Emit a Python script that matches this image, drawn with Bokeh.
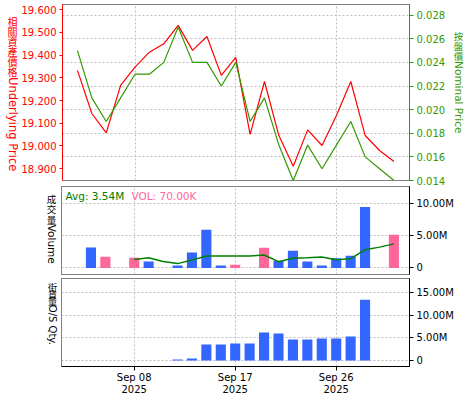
import math
import numpy as np
from bokeh.plotting import figure
from bokeh.models import (Range1d, LinearAxis, FixedTicker, Label, Grid,
                          ColumnDataSource, NumeralTickFormatter)
from bokeh.core.properties import value
from bokeh.layouts import column, row
from bokeh.embed import file_html
from bokeh.resources import INLINE

# ---------------- data ----------------
dates = ["2025-09-02", "2025-09-03", "2025-09-04", "2025-09-05", "2025-09-08",
         "2025-09-09", "2025-09-10", "2025-09-11", "2025-09-12", "2025-09-15",
         "2025-09-16", "2025-09-17", "2025-09-18", "2025-09-19", "2025-09-22",
         "2025-09-23", "2025-09-24", "2025-09-25", "2025-09-26", "2025-09-29",
         "2025-09-30", "2025-10-01", "2025-10-02"]
underlying = [19.333, 19.143, 19.058, 19.267, 19.347, 19.413, 19.450, 19.531,
              19.421, 19.482, 19.311, 19.390, 19.051, 19.284, 19.046, 18.911,
              19.071, 19.002, 19.134, 19.284, 19.046, 18.980, 18.932]
nominal = [0.025, 0.021, 0.019, 0.021, 0.023, 0.023, 0.024, 0.027, 0.024,
           0.024, 0.022, 0.024, 0.019, 0.021, 0.017, 0.014, 0.017, 0.015,
           0.017, 0.019, 0.016, 0.015, 0.014]
volume_m = [None, 3.14, 1.72, None, 1.57, 1.00, None, 0.35, 2.38, 5.88, 0.35,
            0.50, None, 3.09, 1.11, 2.64, 1.00, 0.35, 1.47, 1.88, 9.39, None, 5.12]
volume_side = ["", "up", "down", "", "down", "up", "", "up", "up", "up", "up",
               "down", "", "down", "up", "up", "up", "up", "up", "up", "up", "", "down"]
vol_avg_m = [None, None, None, None, 1.31, 1.57, 1.00, 0.66, 1.20, 1.83, 1.83,
             1.83, 1.83, 1.98, 0.96, 1.47, 1.57, 1.68, 1.27, 1.42, 2.79, 3.20, 3.70]
os_qty_m = [None, None, None, None, None, None, None, 0.22, 0.44, 3.54, 3.54,
            3.76, 3.76, 6.19, 5.97, 4.65, 4.65, 4.87, 4.87, 5.31, 13.50, None, None]

tick_dates = {"2025-09-08": "Sep 08\n2025", "2025-09-17": "Sep 17\n2025",
              "2025-09-26": "Sep 26\n2025"}
left_ticks = [18.9, 19.0, 19.1, 19.2, 19.3, 19.4, 19.5, 19.6]
right_ticks = [0.014, 0.016, 0.018, 0.020, 0.022, 0.024, 0.026, 0.028]
vol_ticks = [0, 5, 10]
vol_tick_labels = ["0", "5.00M", "10.00M"]
os_ticks = [0, 5, 10, 15]
os_tick_labels = ["0", "5.00M", "10.00M", "15.00M"]
avg_text = "Avg: 3.54M"
vol_text = "VOL: 70.00K"
price_title = ("相關資產價格", "Underlying Price")
nominal_title = ("按盤價", "Nominal Price")
volume_title = ("成交量", "Volume")
os_title = ("街貨量", "O/S Qty.")

# ---------------- styling ----------------
RED = "#ff0000"
GREEN = "#339900"
DKGREEN = "#008000"
BLUE = "#3366ff"
PINK = "#ff6699"
GRID = "#c0c0c0"
FONT = "DejaVu Sans"
CJK = "Noto Sans CJK TC"

W = 475
idx = list(range(len(dates)))
xticks = [i for i, d in enumerate(dates) if d in tick_dates]
xr = Range1d(-1.04, 23.08)


def strip_grids(p):
    p.center = [r for r in p.center if not isinstance(r, Grid)]


def add_grid(p, dim, ticks, **kw):
    p.add_layout(Grid(dimension=dim, ticker=FixedTicker(ticks=ticks),
                      grid_line_color=GRID, grid_line_dash="2 2", **kw))


def style_axis(ax, color):
    ax.axis_line_color = color
    ax.major_tick_line_color = color
    ax.minor_tick_line_color = None
    ax.major_label_text_color = color
    ax.major_label_text_font = FONT
    ax.major_label_text_font_size = "10px"
    ax.major_tick_out = 4
    ax.major_tick_in = 0
    ax.major_label_standoff = 3


def label_fig(w, h):
    f = figure(width=w, height=h, x_range=Range1d(0, w), y_range=Range1d(0, h),
               output_backend="svg", toolbar_location=None,
               x_axis_location=None, y_axis_location=None, min_border=0,
               min_border_left=0, min_border_right=0, min_border_top=0,
               min_border_bottom=0)
    strip_grids(f)
    f.outline_line_color = None
    return f


def vtext(f, title, x, y_top, color, size, cjk_size, step):
    cjk, latin = title
    n = len(cjk)
    f.text(x=[x] * n, y=[y_top - (i + 0.5) * step for i in range(n)],
           text=list(cjk), text_align="center", text_baseline="middle",
           text_color=color, text_font=value(CJK),
           text_font_size=value(f"{cjk_size}px"))
    f.text(x=[x], y=[y_top - n * step], text=[latin], angle=-math.pi / 2,
           text_align="left", text_baseline="middle", text_color=color,
           text_font=value(FONT), text_font_size=value(f"{size}px"))


def base_fig(w, h, yr, left, right, top, bottom):
    p = figure(width=w, height=h, x_range=xr, y_range=yr,
               output_backend="svg", toolbar_location=None,
               x_axis_location=None, y_axis_location=None,
               min_border_left=left, min_border_right=right,
               min_border_top=top, min_border_bottom=bottom)
    strip_grids(p)
    p.outline_line_color = "black"
    p.outline_line_dash = "1 1"
    return p


# ---------------- price panel ----------------
H1, T1, B1 = 185, 4, 5
F1 = H1 - T1 - B1
L1W, R1W = 18, 23
p1 = base_fig(W - L1W - R1W, H1, Range1d(18.848, 19.623), 43, 43, T1, B1)
p1.extra_y_ranges = {"nominal": Range1d(0.014, 0.0289)}
add_grid(p1, 0, xticks)
add_grid(p1, 1, right_ticks, y_range_name="nominal")

lax = LinearAxis(ticker=FixedTicker(ticks=left_ticks),
                 formatter=NumeralTickFormatter(format="0.000"))
style_axis(lax, RED)
lax.major_tick_out = 3
p1.add_layout(lax, "left")

rax = LinearAxis(y_range_name="nominal", ticker=FixedTicker(ticks=right_ticks),
                 formatter=NumeralTickFormatter(format="0.000"))
style_axis(rax, GREEN)
p1.add_layout(rax, "right")

p1.line(idx, underlying, line_color=RED, line_width=1.2)
p1.line(idx, nominal, line_color=GREEN, line_width=1.2, y_range_name="nominal")

l1 = label_fig(L1W, H1)
vtext(l1, price_title, 12, H1 - 12, RED, 11.5, 10, 10.7)
r1 = label_fig(R1W, H1)
vtext(r1, nominal_title, 6, H1 - 28, GREEN, 10.5, 9.5, 10.5)

# ---------------- volume panel ----------------
H2, T2, B2 = 91, 1, 2
F2 = H2 - T2 - B2
L2W = 60
p2 = base_fig(W - L2W, H2, Range1d(-1.02, 12.55), 1, 66, T2, B2)
add_grid(p2, 0, xticks)
add_grid(p2, 1, vol_ticks)
vax = LinearAxis(ticker=FixedTicker(ticks=vol_ticks),
                 major_label_overrides=dict(zip(vol_ticks, vol_tick_labels)))
style_axis(vax, "black")
p2.add_layout(vax, "right")

vx = [i for i in idx if volume_m[i] is not None]
vsrc = ColumnDataSource(dict(
    x=vx, top=[volume_m[i] for i in vx],
    color=[BLUE if volume_side[i] == "up" else PINK for i in vx]))
p2.vbar(x="x", top="top", bottom=0, width=0.7, fill_color="color",
        line_color=None, source=vsrc)
p2.line(idx, [np.nan if v is None else v for v in vol_avg_m],
        line_color=DKGREEN, line_width=1.5)

p2.add_layout(Label(x=4, y=F2 - 9, x_units="screen", y_units="screen",
                    text=avg_text, text_baseline="middle", text_color=DKGREEN,
                    text_font=FONT, text_font_size="10.5px"))
p2.add_layout(Label(x=70, y=F2 - 9, x_units="screen", y_units="screen",
                    text=vol_text, text_baseline="middle", text_color=PINK,
                    text_font=FONT, text_font_size="10.5px"))
l2 = label_fig(L2W, H2)
vtext(l2, volume_title, 51, H2 - 8, "black", 10.5, 9.5, 10.5)

# ---------------- O/S qty panel ----------------
H3, T3, B3 = 124, 2, 34
F3 = H3 - T3 - B3
L3W = 60
p3 = base_fig(W - L3W, H3, Range1d(-1.33, 18.2), 1, 66, T3, B3)
add_grid(p3, 0, xticks)
add_grid(p3, 1, os_ticks)
oax = LinearAxis(ticker=FixedTicker(ticks=os_ticks),
                 major_label_overrides=dict(zip(os_ticks, os_tick_labels)))
style_axis(oax, "black")
p3.add_layout(oax, "right")

xax = LinearAxis(ticker=FixedTicker(ticks=xticks),
                 major_label_overrides={i: tick_dates[dates[i]] for i in xticks})
style_axis(xax, "black")
xax.major_label_standoff = 1
xax.major_label_text_line_height = 1.1
p3.add_layout(xax, "below")

ox = [i for i in idx if os_qty_m[i] is not None]
p3.vbar(x=ox, top=[os_qty_m[i] for i in ox], bottom=0, width=0.7,
        fill_color=BLUE, line_color=None)
l3 = label_fig(L3W, H3)
vtext(l3, os_title, 52, H3 - 7, "black", 10, 9, 10)

layout = column(row(l1, p1, r1, spacing=0),
                row(l2, p2, spacing=0),
                row(l3, p3, spacing=0), spacing=0)
open("out.html", "w").write(file_html(layout, INLINE))
